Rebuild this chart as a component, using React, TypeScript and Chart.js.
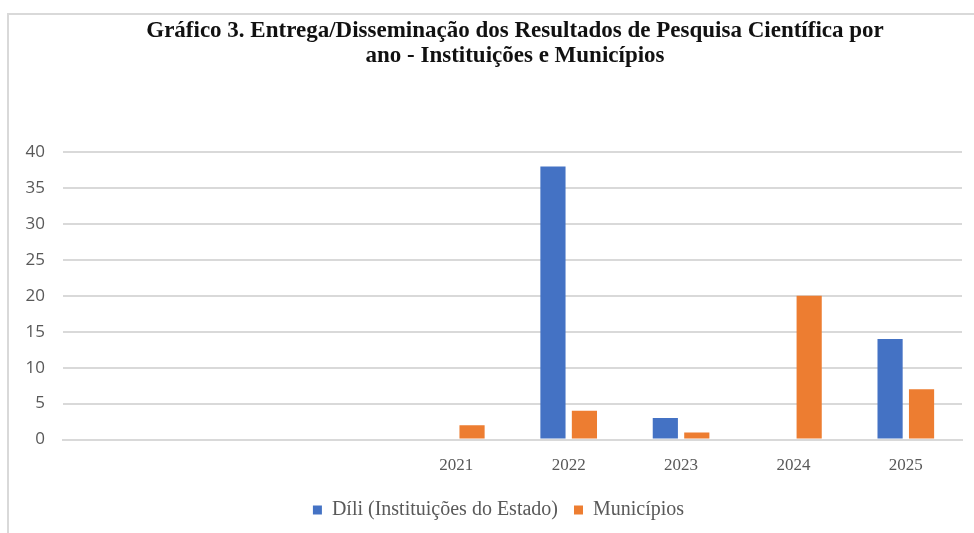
import React, { useEffect, useRef } from "react";
import { Chart, registerables } from "chart.js";

Chart.register(...registerables);

const categories: string[] = ["", "", "", "2021", "2022", "2023", "2024", "2025"];
const diliValues: (number | null)[] = [null, null, null, null, 38, 3, null, 14];
const municipiosValues: (number | null)[] = [null, null, null, 2, 4, 1, 20, 7];
const titleLines: string[] = [
  "Gráfico 3. Entrega/Disseminação dos Resultados de Pesquisa Científica por",
  "ano - Instituições e Municípios",
];
const seriesNames: string[] = ["Díli (Instituições do Estado)", "Municípios"];

const framePlugin = {
  id: "frame",
  beforeDraw(chart: any) {
    const { ctx, width, height } = chart;
    ctx.save();
    ctx.fillStyle = "#ffffff";
    ctx.fillRect(0, 0, width, height);
    ctx.strokeStyle = "#d9d9d9";
    ctx.lineWidth = 2;
    ctx.beginPath();
    ctx.moveTo(8, height);
    ctx.lineTo(8, 14);
    ctx.lineTo(width, 14);
    ctx.stroke();
    ctx.restore();
  },
};

const titlePlugin = {
  id: "twoLineTitle",
  afterLayout(chart: any) {
    if (chart.legend) {
      chart.legend.left += 6;
      chart.legend.right += 6;
    }
  },
  afterDraw(chart: any) {
    const { ctx } = chart;
    ctx.save();
    ctx.fillStyle = "#111111";
    ctx.font = "bold 23px 'Liberation Serif'";
    ctx.textAlign = "center";
    ctx.textBaseline = "alphabetic";
    ctx.fillText(titleLines[0], 515, 37);
    ctx.fillText(titleLines[1], 515, 62);
    ctx.restore();
  },
};

export default function App() {
  const ref = useRef<HTMLCanvasElement | null>(null);

  useEffect(() => {
    if (!ref.current) return;
    const chart = new Chart(ref.current, {
      type: "bar",
      data: {
        labels: categories,
        datasets: [
          {
            label: seriesNames[0],
            data: diliValues,
            backgroundColor: "#4472C4",
            borderWidth: 0,
            categoryPercentage: 0.56,
            barPercentage: 0.8,
          },
          {
            label: seriesNames[1],
            data: municipiosValues,
            backgroundColor: "#ED7D31",
            borderWidth: 0,
            categoryPercentage: 0.56,
            barPercentage: 0.8,
          },
        ],
      },
      options: {
        responsive: false,
        animation: false,
        devicePixelRatio: 1,
        layout: { padding: { left: 23, right: 12, top: 152, bottom: 3 } },
        plugins: {
          title: { display: false },
          legend: {
            position: "bottom",
            labels: {
              color: "#595959",
              font: { family: "Liberation Serif", size: 20 },
              boxWidth: 9,
              boxHeight: 9,
              padding: 16,
            },
          },
          tooltip: { enabled: false },
        },
        scales: {
          x: {
            grid: { display: false },
            border: { display: true, color: "#d9d9d9", width: 2 },
            ticks: {
              color: "#595959",
              font: { family: "Liberation Serif", size: 17 },
              padding: 8,
              maxRotation: 0,
              autoSkip: false,
            },
          },
          y: {
            min: 0,
            max: 40,
            afterFit: (s: any) => {
              s.width = 40;
            },
            ticks: {
              stepSize: 5,
              color: "#595959",
              font: { family: "Open Sans", size: 17 },
              padding: 18,
            },
            grid: { color: "#d9d9d9", lineWidth: 2, drawTicks: false },
            border: { display: false },
          },
        },
      },
      plugins: [framePlugin, titlePlugin],
    });
    return () => chart.destroy();
  }, []);

  return (
    <div style={{ position: "fixed", left: 0, top: 0, width: 974, height: 533, background: "#fff" }}>
      <canvas ref={ref} width={974} height={533} />
    </div>
  );
}
